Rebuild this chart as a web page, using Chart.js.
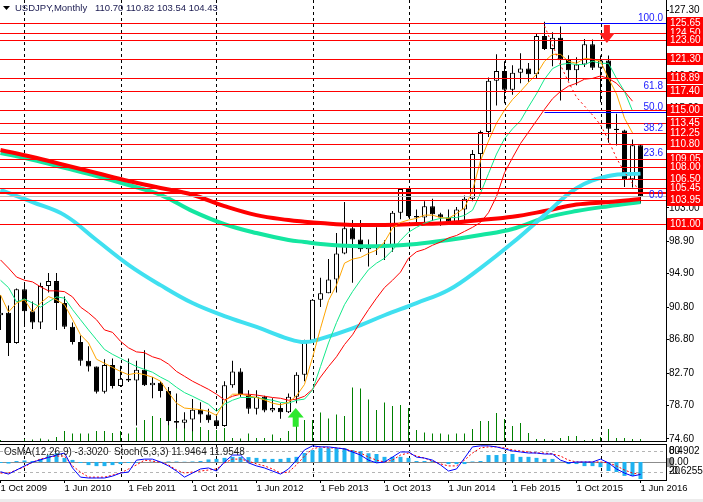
<!DOCTYPE html>
<html>
<head>
<meta charset="utf-8">
<title>USDJPY, Monthly</title>
<script src="https://cdn.jsdelivr.net/npm/chart.js@4.4.1/dist/chart.umd.min.js"></script>
<style>
  html, body { margin: 0; padding: 0; background: #fff; }
  #wrap { position: relative; width: 703px; height: 502px; overflow: hidden; background: #fff; }
  #main { position: absolute; left: 0; top: 0; }
  #sub { position: absolute; left: 0; top: 443px; }
  #status { position: absolute; left: 0; top: 499px; width: 703px; height: 3px; background: #ececec; }
</style>
</head>
<body>
<div id="wrap">
  <canvas id="main" width="703" height="442"></canvas>
  <canvas id="sub" width="703" height="56"></canvas>
  <div id="status"></div>
</div>
<script>
// Monthly bars, index 0 = Oct 2009 ... index 80 = Jun 2016
const opens = [89.8, 90.1, 86.4, 93.0, 90.3, 88.9, 93.4, 94.0, 91.3, 88.4,
  86.5, 84.2, 83.5, 80.4, 83.7, 81.1, 82.0, 81.8, 83.1, 81.2,
  81.5, 80.5, 76.8, 76.6, 77.0, 78.2, 77.6, 76.9, 76.2, 81.2,
  82.9, 80.0, 78.3, 79.8, 78.1, 78.4, 77.9, 79.8, 82.5, 86.7,
  91.7, 92.5, 94.2, 97.4, 100.5, 99.1, 97.9, 98.2, 98.3, 98.4,
  102.4, 105.3, 102.0, 101.8, 103.2, 102.2, 101.8, 101.3, 102.8, 104.1,
  109.6, 112.3, 118.6, 119.8, 117.5, 119.6, 120.1, 119.4, 124.1, 122.5,
  123.9, 121.2, 119.9, 120.6, 123.1, 120.2, 121.1, 112.7, 112.5, 106.5,
  110.70];
const highs = [92.3, 91.0, 93.1, 93.8, 91.5, 93.8, 94.98, 94.99, 92.1, 88.9,
  87.3, 86.0, 83.5, 84.4, 84.5, 83.6, 84.5, 84.2, 85.5, 82.2,
  81.7, 81.0, 80.2, 77.9, 79.5, 79.1, 78.3, 77.4, 81.7, 84.2,
  83.3, 80.6, 80.6, 79.9, 79.6, 79.0, 80.2, 82.8, 86.8, 91.8,
  94.4, 96.7, 99.9, 103.7, 101.5, 101.5, 99.1, 100.6, 99.0, 102.6,
  105.4, 105.4, 102.8, 103.8, 104.1, 102.4, 102.8, 103.1, 104.5, 110.1,
  112.5, 119.0, 121.85, 121.0, 120.5, 122.0, 120.8, 124.46, 125.86, 124.58,
  125.28, 121.75, 121.5, 123.75, 123.67, 121.7, 121.7, 114.55, 112.6, 111.4,
  110.82];
const lows = [88.0, 84.8, 86.3, 88.5, 88.1, 88.1, 92.6, 88.0, 88.1, 86.2,
  83.6, 82.9, 80.2, 80.2, 80.8, 81.0, 81.6, 76.25, 81.1, 79.6,
  79.7, 76.3, 75.9, 75.9, 75.56, 76.6, 76.6, 76.0, 76.1, 80.9,
  79.8, 77.7, 77.6, 77.9, 77.9, 77.1, 77.8, 79.0, 81.7, 86.5,
  90.8, 92.5, 92.6, 97.3, 93.8, 97.6, 95.8, 97.2, 96.6, 97.6,
  101.6, 101.8, 100.8, 101.2, 101.4, 100.8, 101.1, 101.1, 101.5, 103.8,
  105.2, 111.7, 115.57, 115.86, 116.9, 118.3, 118.5, 118.9, 122.4, 120.4,
  116.18, 118.6, 118.07, 120.3, 119.94, 115.98, 110.98, 110.67, 105.55, 105.5,
  103.54];
const closes = [90.1, 86.4, 93.0, 90.3, 88.9, 93.4, 94.0, 91.3, 88.4, 86.5,
  84.2, 83.5, 80.4, 83.7, 81.1, 82.0, 81.8, 83.1, 81.2, 81.5,
  80.5, 76.8, 76.6, 77.0, 78.2, 77.6, 76.9, 76.2, 81.2, 82.9,
  80.0, 78.3, 79.8, 78.1, 78.4, 77.9, 79.8, 82.5, 86.7, 91.7,
  92.5, 94.2, 97.4, 100.5, 99.1, 97.9, 98.2, 98.3, 98.4, 102.4,
  105.3, 102.0, 101.8, 103.2, 102.2, 101.8, 101.3, 102.8, 104.1, 109.6,
  112.3, 118.6, 119.8, 117.5, 119.6, 120.1, 119.4, 124.1, 122.5, 123.9,
  121.2, 119.9, 120.6, 123.1, 120.2, 121.1, 112.7, 112.57, 106.5, 110.7,
  104.43];
// tick volumes
const volumes = [2000, 1000, 1000, 3000, 2500, 3500, 2500, 5000, 11000, 8500,
  8500, 8500, 11000, 11000, 9000, 11000, 8500, 14500, 22000, 26000,
  24000, 21000, 23500, 21000, 21000, 15000, 12000, 12000, 14000, 4000,
  3500, 8500, 4000, 4000, 7500, 4000, 11000, 24000, 22000, 22000,
  29500, 23500, 27500, 26000, 54500, 53500, 42500, 32000, 39500, 36000,
  37000, 34000, 12000, 9500, 8500, 8500, 7500, 8500, 8500, 13000,
  21000, 21000, 29000, 23000, 16000, 19000, 9000, 3000, 3000, 2000,
  4000, 6000, 6000, 2000, 3000, 5000, 13000, 4000, 4000, 3000,
  3000];

// short moving averages (index 0..79)
const maOrange = [92.3, 90.2, 91.3, 91.7, 90.2, 91.3, 92.1, 91.7, 91.1, 89.3,
  87.4, 86.4, 84.4, 83.9, 83.4, 82.9, 82.5, 82.7, 82.5, 82.2,
  81.7, 80.3, 79.0, 78.4, 78.3, 78.2, 78.0, 77.5, 79.2, 80.1,
  80.1, 79.9, 79.7, 79.4, 79.0, 78.8, 79.1, 79.9, 81.3, 84.6,
  88.2, 91.6, 93.5, 96.2, 96.7, 96.9, 97.4, 97.8, 98.8, 100.5,
  101.2, 101.5, 101.7, 102.1, 102.1, 101.8, 101.7, 102.3, 103.0, 105.1,
  108.8, 111.2, 113.4, 115.0, 116.3, 117.3, 118.4, 119.4, 121.0, 121.85,
  121.85, 121.0, 120.75, 121.36, 121.24, 121.0, 118.9, 117.0, 114.0, 112.2];
const maGreen = [94.1, 93.2, 91.45, 91.8, 91.3, 90.8, 91.45, 92.06, 91.9, 90.5,
  89.25, 88.0, 86.8, 85.6, 85.0, 84.5, 84.0, 83.5, 83.15, 82.8,
  82.2, 81.7, 80.95, 80.3, 79.85, 79.36, 78.87, 78.0, 78.87, 79.36,
  79.7, 79.7, 79.7, 79.5, 79.36, 79.1, 79.0, 79.36, 79.5, 80.6,
  83.5, 86.4, 88.9, 91.1, 92.7, 94.1, 95.4, 96.2, 96.8, 97.8,
  99.0, 100.0, 100.6, 101.1, 101.46, 101.7, 101.8, 101.8, 102.07, 102.7,
  104.8, 107.2, 109.6, 111.5, 112.7, 113.7, 115.4, 117.0, 118.8, 120.1,
  120.6, 120.75, 120.6, 120.6, 121.0, 120.75, 120.75, 118.9, 117.3, 114.9];
const maRedThin = [96.6, 95.6, 94.5, 94.1, 93.9, 93.3, 92.8, 92.8, 92.7, 92.06,
  90.8, 90.1, 89.25, 88.0, 87.7, 86.6, 85.8, 85.3, 85.2, 84.7,
  84.4, 83.8, 82.9, 82.3, 81.7, 81.2, 80.7, 80.1, 79.4, 79.85,
  80.1, 80.1, 80.0, 79.85, 79.7, 79.6, 79.36, 79.5, 79.85, 80.7,
  82.2, 83.5, 84.7, 86.2, 87.4, 89.0, 90.5, 91.9, 93.2, 94.1,
  95.1, 96.8, 97.6, 97.9, 98.4, 98.8, 99.3, 99.6, 100.1, 100.6,
  101.2, 102.4, 104.4, 107.3, 109.15, 110.9, 112.3, 113.7, 115.1, 116.4,
  117.3, 117.95, 118.3, 118.8, 118.9, 119.2, 118.9, 118.3, 117.3, 116.1];
// dotted red line, from the Jun 2015 top
const dotIdx = [68, 69, 70, 71, 72, 73, 74, 75, 76, 77, 78, 79, 80];
const dotVals = [125.34, 123.0, 120.55, 118.46, 116.6, 115.5, 114.4, 113.2, 111.3, 109.1, 107.4, 106.0, 105.2];

// long moving averages, read every few bars
const longIdx = [0, 4, 8, 12, 16, 20, 24, 28, 32, 36, 38, 40, 44, 48, 52, 56, 60, 64, 68, 72, 76, 80];
const maRedLong = [110.1, 109.24, 108.26, 107.28, 106.3, 105.44, 104.6, 103.2, 102.1, 101.5, 101.3, 101.14,
  100.9, 100.9, 101.0, 101.14, 101.5, 101.9, 102.6, 103.4, 103.7, 104.08];
const maTealLong = [109.74, 108.9, 107.9, 106.9, 105.8, 104.6, 102.6, 101.0, 99.9, 99.05, 98.8, 98.56,
  98.3, 98.3, 98.56, 99.05, 99.66, 100.4, 101.75, 102.6, 103.2, 103.7];
const maCyanLong = [105.2, 103.7, 102.1, 99.05, 96.0, 93.5, 91.3, 89.7, 88.36, 86.9, 86.5, 86.9,
  88.2, 89.8, 91.3, 92.9, 95.6, 98.7, 102.1, 105.4, 106.9, 107.2];

// OsMA(12,26,9) and Stoch(5,3,3)
const osma = [-0.2, -0.3, 0.2, 0.3, 0.2, 0.6, 1.3, 1.7, 0.8, 0.4,
  -0.2, -0.6, -0.8, -0.8, -0.6, -0.4, -0.2, -0.1, 0.0, 0.05,
  0.05, 0.1, 0.1, 0.05, 0.1, 0.2, 0.5, 0.6, 0.8, 1.0,
  1.0, 0.95, 0.8, 0.6, 0.6, 0.6, 0.8, 1.0, 1.75, 2.3,
  2.7, 2.7, 2.7, 2.7, 2.3, 2.1, 1.7, 1.55, 1.0, 1.0,
  1.0, 0.8, 0.2, 0.2, 0.2, 0.0, -0.4, -0.4, -0.4, 0.1,
  0.2, 1.35, 1.35, 1.55, 1.55, 1.0, 1.0, 0.8, 0.6, 0.6,
  0.05, -0.4, -0.4, -0.8, -0.8, -1.0, -1.75, -1.95, -2.7, -2.7,
  -3.3020];
const stochMain = [20, 13, 25, 37, 48, 55, 62, 69, 75, 31,
  4, 1.5, 1.5, 1.5, 7, 16, 19, 54, 57, 57,
  48.5, 37, 22, 4, 16, 28, 31, 22, 48.5, 69,
  69, 46, 37, 31, 22, 13, 28, 54, 84, 96,
  93, 93, 90, 87, 78, 69, 54, 46, 48.5, 63,
  78, 78, 63, 60, 54, 40, 22, 28, 60, 93,
  96, 96, 93, 87, 81, 78, 75, 75, 72, 72,
  54, 46, 48.5, 48.5, 48.5, 57, 46, 28, 16, 7,
  11.9464];
const stochSignal = [16, 16, 25, 34, 48, 57, 63, 66, 66, 37,
  19, 4, 4, 4, 10, 16, 28, 40, 54, 51,
  48, 40, 25, 16, 19, 22, 25, 28, 46, 57,
  57, 51, 43, 37, 28, 16, 19, 40, 66, 87,
  93, 90, 90, 87, 81, 75, 63, 54, 48.5, 54,
  69, 75, 66, 60, 51, 43, 37, 37, 54, 75,
  90, 93, 93, 90, 84, 81, 78, 75, 75, 72,
  66, 54, 48.5, 48.5, 48.5, 48.5, 46, 37, 25, 16,
  11.9548];

// axis labels
const labelIdx = [0, 8, 16, 24, 32, 40, 48, 56, 64, 72, 80];
const xLabels = ['1 Oct 2009', '1 Jun 2010', '1 Feb 2011', '1 Oct 2011', '1 Jun 2012', '1 Feb 2013',
  '1 Oct 2013', '1 Jun 2014', '1 Feb 2015', '1 Oct 2015', '1 Jun 2016'];
const yearStarts = [3, 15, 27, 39, 51, 63, 75];
const priceTicks = [127.30, 123.30, 119.20, 115.20, 111.10, 107.10, 103.00, 98.90, 94.90, 90.80, 86.80, 82.70, 78.70, 74.60];

// horizontal levels (drawing order), fibo and signal arrows
const levels = [125.65, 124.50, 123.60, 121.30, 118.89, 117.40, 115.00, 113.45, 112.25, 110.80,
  109.05, 108.00, 106.50, 104.85, 105.45, 103.95, 101.00];
const thickLevel = 104.85;
const bidPrice = 104.43;
const fibHigh = 125.65, fibLow = 103.95, fibFrom = 68;
const fibRatios = [100.0, 61.8, 50.0, 38.2, 23.6, 0.0];
const arrows = [
  { i: 36.9, top: 78.4, bottom: 76.1, dir: 'up', color: '#2ee82e' },
  { i: 75.8, top: 125.46, bottom: 123.25, dir: 'down', color: '#ff2222' }
];

// view ranges
const X_MIN = -0.0625, X_MAX = 83.1875;
const PRICE_MIN = 74.23, PRICE_MAX = 128.53;
const AXIS_W = 37;

Chart.defaults.font.family = '"Liberation Sans", Arial, sans-serif';
Chart.defaults.font.size = 10;
Chart.defaults.color = '#000';

const pts = arr => arr.map((v, i) => ({ x: i, y: v }));
const ptsAt = (idx, arr) => arr.map((v, k) => ({ x: idx[k], y: v }));
const FONT = '10px "Liberation Sans", Arial, sans-serif';

function hline(ctx, x1, x2, y) {
  ctx.beginPath();
  ctx.moveTo(x1, y);
  ctx.lineTo(x2, y);
  ctx.stroke();
}

function drawArrow(ctx, cx, yTop, yBot, dir, color) {
  const h = yBot - yTop;
  const hw = 8, sw = 3;
  ctx.fillStyle = color;
  ctx.beginPath();
  if (dir === 'up') {
    const yh = yTop + h * 0.5;
    ctx.moveTo(cx, yTop);
    ctx.lineTo(cx + hw, yh);
    ctx.lineTo(cx + sw, yh);
    ctx.lineTo(cx + sw, yBot);
    ctx.lineTo(cx - sw, yBot);
    ctx.lineTo(cx - sw, yh);
    ctx.lineTo(cx - hw, yh);
  } else {
    const yh = yTop + h * 0.45;
    ctx.moveTo(cx - sw, yTop);
    ctx.lineTo(cx + sw, yTop);
    ctx.lineTo(cx + sw, yh);
    ctx.lineTo(cx + hw, yh);
    ctx.lineTo(cx, yBot);
    ctx.lineTo(cx - hw, yh);
    ctx.lineTo(cx - sw, yh);
  }
  ctx.closePath();
  ctx.fill();
}

function yearLines(chart) {
  const { ctx, chartArea: a, scales: { x } } = chart;
  ctx.save();
  ctx.strokeStyle = '#000';
  ctx.lineWidth = 1;
  ctx.setLineDash([3, 3]);
  yearStarts.forEach(i => {
    const px = Math.round(x.getPixelForValue(i)) + 0.5;
    ctx.beginPath();
    ctx.moveTo(px, a.top);
    ctx.lineTo(px, a.bottom);
    ctx.stroke();
  });
  ctx.restore();
}

const mainOverlay = {
  id: 'mainOverlay',
  beforeDatasetsDraw(chart) {
    yearLines(chart);
  },
  afterDatasetsDraw(chart) {
    const { ctx, chartArea: a, scales: { x, y } } = chart;
    const py = v => Math.round(y.getPixelForValue(v)) + 0.5;
    const fibX = x.getPixelForValue(fibFrom);
    const fibPrice = r => fibLow + (fibHigh - fibLow) * r / 100;
    ctx.save();
    // bid line
    ctx.strokeStyle = '#c0c0c0';
    ctx.lineWidth = 1;
    hline(ctx, a.left, a.right, py(bidPrice));
    // fibo lines; those sitting on a level are covered by it
    ctx.strokeStyle = '#0000ff';
    fibRatios.forEach(r => {
      const p = fibPrice(r);
      const lv = levels.find(l => Math.abs(l - p) < 0.1);
      hline(ctx, fibX, a.right, py(lv !== undefined ? lv : p));
    });
    // horizontal levels
    ctx.strokeStyle = '#ff0000';
    levels.forEach(lv => {
      ctx.lineWidth = lv === thickLevel ? 2 : 1;
      hline(ctx, a.left, a.right, lv === thickLevel ? Math.round(y.getPixelForValue(lv)) : py(lv));
    });
    // fibo anchor and texts
    ctx.lineWidth = 1;
    ctx.strokeStyle = '#0000ff';
    hline(ctx, fibX, a.right, py(fibPrice(100)));
    ctx.fillStyle = '#2020ff';
    ctx.font = FONT;
    ctx.textAlign = 'right';
    ctx.textBaseline = 'alphabetic';
    fibRatios.forEach(r => ctx.fillText(r.toFixed(1), a.right - 3, py(fibPrice(r)) - 2.5));
    // arrows
    arrows.forEach(ar => drawArrow(ctx, x.getPixelForValue(ar.i), y.getPixelForValue(ar.top),
      y.getPixelForValue(ar.bottom), ar.dir, ar.color));
    // panel bottom border
    ctx.strokeStyle = '#000';
    hline(ctx, a.left, a.right, a.bottom - 0.5);
    ctx.restore();
  },
  afterDraw(chart) {
    const { ctx, chartArea: a, scales: { y } } = chart;
    ctx.save();
    ctx.font = FONT;
    ctx.textBaseline = 'middle';
    ctx.textAlign = 'left';
    // level price boxes on the axis
    levels.forEach(lv => {
      const c = Math.round(y.getPixelForValue(lv));
      ctx.fillStyle = '#ff0000';
      ctx.fillRect(a.right + 1, c - 6, chart.width - a.right - 1, 12);
      ctx.fillStyle = '#ffffff';
      ctx.fillText(lv.toFixed(2), a.right + 4, c + 0.5);
    });
    // header
    const last = closes.length - 1;
    ctx.fillStyle = '#000';
    ctx.beginPath();
    ctx.moveTo(3, 6); ctx.lineTo(10, 6); ctx.lineTo(6.5, 10);
    ctx.closePath();
    ctx.fill();
    ctx.font = '9.5px "Liberation Sans", Arial, sans-serif';
    ctx.fillStyle = '#1a1a50';
    ctx.fillText('USDJPY,Monthly', 15, 8.5);
    ctx.fillText([opens[last], highs[last], lows[last], closes[last]].map(v => v.toFixed(2)).join(' '), 95, 8.5);
    ctx.restore();
  }
};

new Chart(document.getElementById('main'), {
  type: 'bar',
  data: {
    datasets: [
      { type: 'line', label: 'Dotted', data: ptsAt(dotIdx, dotVals), borderColor: '#ff0000', borderWidth: 1,
        borderDash: [2, 3], pointRadius: 0, order: 1 },
      { type: 'line', label: 'MA fast', data: pts(maOrange), borderColor: '#ffa500', borderWidth: 1, pointRadius: 0, order: 2 },
      { type: 'line', label: 'MA mid', data: pts(maGreen), borderColor: '#12e88a', borderWidth: 1, pointRadius: 0, order: 3 },
      { type: 'line', label: 'MA slow', data: pts(maRedThin), borderColor: '#ff0000', borderWidth: 1, pointRadius: 0, order: 3 },
      { type: 'line', label: 'MA cyan', data: ptsAt(longIdx, maCyanLong), borderColor: '#40e0f0', borderWidth: 4,
        tension: 0.4, pointRadius: 0, order: 4 },
      { type: 'line', label: 'MA red', data: ptsAt(longIdx, maRedLong), borderColor: '#ff0000', borderWidth: 4,
        tension: 0.4, pointRadius: 0, order: 5 },
      { type: 'line', label: 'MA teal', data: ptsAt(longIdx, maTealLong), borderColor: '#14e6a0', borderWidth: 4,
        tension: 0.4, pointRadius: 0, order: 6 },
      { type: 'bar', label: 'Bodies', data: opens.map((o, i) => ({ x: i, y: [o, closes[i]] })),
        backgroundColor: closes.map((c, i) => c >= opens[i] ? '#ffffff' : '#000000'),
        borderColor: '#000', borderWidth: 1, borderSkipped: false, barThickness: 5,
        grouped: false, inflateAmount: 0, order: 7 },
      { type: 'bar', label: 'Wicks', data: lows.map((l, i) => ({ x: i, y: [l, highs[i]] })),
        backgroundColor: '#000', barThickness: 1, grouped: false, inflateAmount: 0, order: 8 },
      { type: 'bar', label: 'Volume', yAxisID: 'yv', data: pts(volumes),
        backgroundColor: '#008000', barThickness: 1, grouped: false, inflateAmount: 0, order: 9 }
    ]
  },
  options: {
    responsive: false,
    animation: false,
    events: [],
    layout: { padding: 0 },
    plugins: { legend: { display: false }, tooltip: { enabled: false } },
    scales: {
      x: { type: 'linear', min: X_MIN, max: X_MAX, offset: false, display: false, grid: { offset: false } },
      y: {
        type: 'linear', position: 'right', min: PRICE_MIN, max: PRICE_MAX,
        afterBuildTicks: s => { s.ticks = priceTicks.map(v => ({ value: v })); },
        afterFit: s => { s.width = AXIS_W; s.paddingTop = 0; s.paddingBottom = 0; },
        ticks: { autoSkip: false, padding: 0, callback: v => v.toFixed(2) },
        grid: { drawOnChartArea: false, tickLength: 3, color: '#000' },
        border: { color: '#000' }
      },
      yv: { type: 'linear', display: false, min: 0, max: 442000 }
    }
  },
  plugins: [mainOverlay]
});

const subOverlay = {
  id: 'subOverlay',
  beforeDatasetsDraw(chart) {
    const { ctx, chartArea: a, scales: { ys, yo } } = chart;
    yearLines(chart);
    ctx.save();
    ctx.lineWidth = 1;
    ctx.strokeStyle = '#b4b4b4';
    ctx.setLineDash([3, 3]);
    [80, 20].forEach(v => hline(ctx, a.left, a.right, Math.round(ys.getPixelForValue(v)) + 0.5));
    ctx.setLineDash([]);
    ctx.strokeStyle = '#8c8c8c';
    hline(ctx, a.left, a.right, Math.round(yo.getPixelForValue(0)) + 0.5);
    ctx.restore();
  },
  afterDraw(chart) {
    const { ctx, chartArea: a, scales: { ys, yo } } = chart;
    const last = osma.length - 1;
    ctx.save();
    ctx.strokeStyle = '#000';
    ctx.lineWidth = 1;
    hline(ctx, a.left, a.right, a.top + 0.5);
    ctx.font = FONT;
    ctx.textBaseline = 'middle';
    ctx.textAlign = 'left';
    ctx.fillStyle = '#202020';
    ctx.fillText('OsMA(12,26,9) ' + osma[last].toFixed(4) + '  Stoch(5,3,3) ' + stochMain[last].toFixed(4) + ' ' +
      stochSignal[last].toFixed(4), 4, ys.getPixelForValue(80) + 1);
    // right side scale texts
    const y80 = ys.getPixelForValue(80), y20 = ys.getPixelForValue(20), y0 = yo.getPixelForValue(0);
    ctx.fillStyle = '#000';
    ctx.fillText('0.4902', a.right + 3, y80);
    ctx.fillText('80', a.right + 3, y80);
    ctx.fillStyle = '#a0a0a0';
    ctx.fillRect(a.right + 1, y0 - 4, 7, 9);
    ctx.fillStyle = '#000';
    ctx.fillText('0.00', a.right + 3, y0 + 0.5);
    ctx.fillText('-0.6255', a.right + 3, y20);
    ctx.fillText('20', a.right + 3, y20);
    ctx.restore();
  }
};

new Chart(document.getElementById('sub'), {
  type: 'bar',
  data: {
    datasets: [
      { type: 'line', label: 'Stoch', yAxisID: 'ys', data: pts(stochMain), borderColor: '#0000ff', borderWidth: 1,
        pointRadius: 0, order: 1 },
      { type: 'line', label: 'Signal', yAxisID: 'ys', data: pts(stochSignal), borderColor: '#ff0000', borderWidth: 1,
        borderDash: [2, 2], pointRadius: 0, order: 2 },
      { type: 'bar', label: 'OsMA', yAxisID: 'yo', data: pts(osma), backgroundColor: '#1fb2f0',
        barThickness: 4, grouped: false, inflateAmount: 0, order: 3 }
    ]
  },
  options: {
    responsive: false,
    animation: false,
    events: [],
    layout: { padding: { top: 1 } },
    plugins: { legend: { display: false }, tooltip: { enabled: false } },
    scales: {
      x: {
        type: 'linear', position: 'bottom', min: X_MIN, max: X_MAX, offset: false,
        afterBuildTicks: s => { s.ticks = labelIdx.map(v => ({ value: v })); },
        afterFit: s => { s.height = 19; s.paddingLeft = 0; s.paddingRight = 0; },
        ticks: {
          autoSkip: false, maxRotation: 0, align: 'start', padding: 0,
          font: { size: 9.5 },
          callback: v => xLabels[labelIdx.indexOf(v)]
        },
        grid: { drawOnChartArea: false, offset: false, tickLength: 3, color: '#000' },
        border: { color: '#000' }
      },
      ys: {
        type: 'linear', position: 'right', min: -4.41, max: 101.47,
        afterFit: s => { s.width = AXIS_W; s.paddingTop = 0; s.paddingBottom = 0; },
        ticks: { display: false },
        grid: { drawOnChartArea: false, drawTicks: false },
        border: { color: '#000' }
      },
      yo: { type: 'linear', display: false, min: -3.495, max: 3.495 }
    }
  },
  plugins: [subOverlay]
});
</script>
</body>
</html>
